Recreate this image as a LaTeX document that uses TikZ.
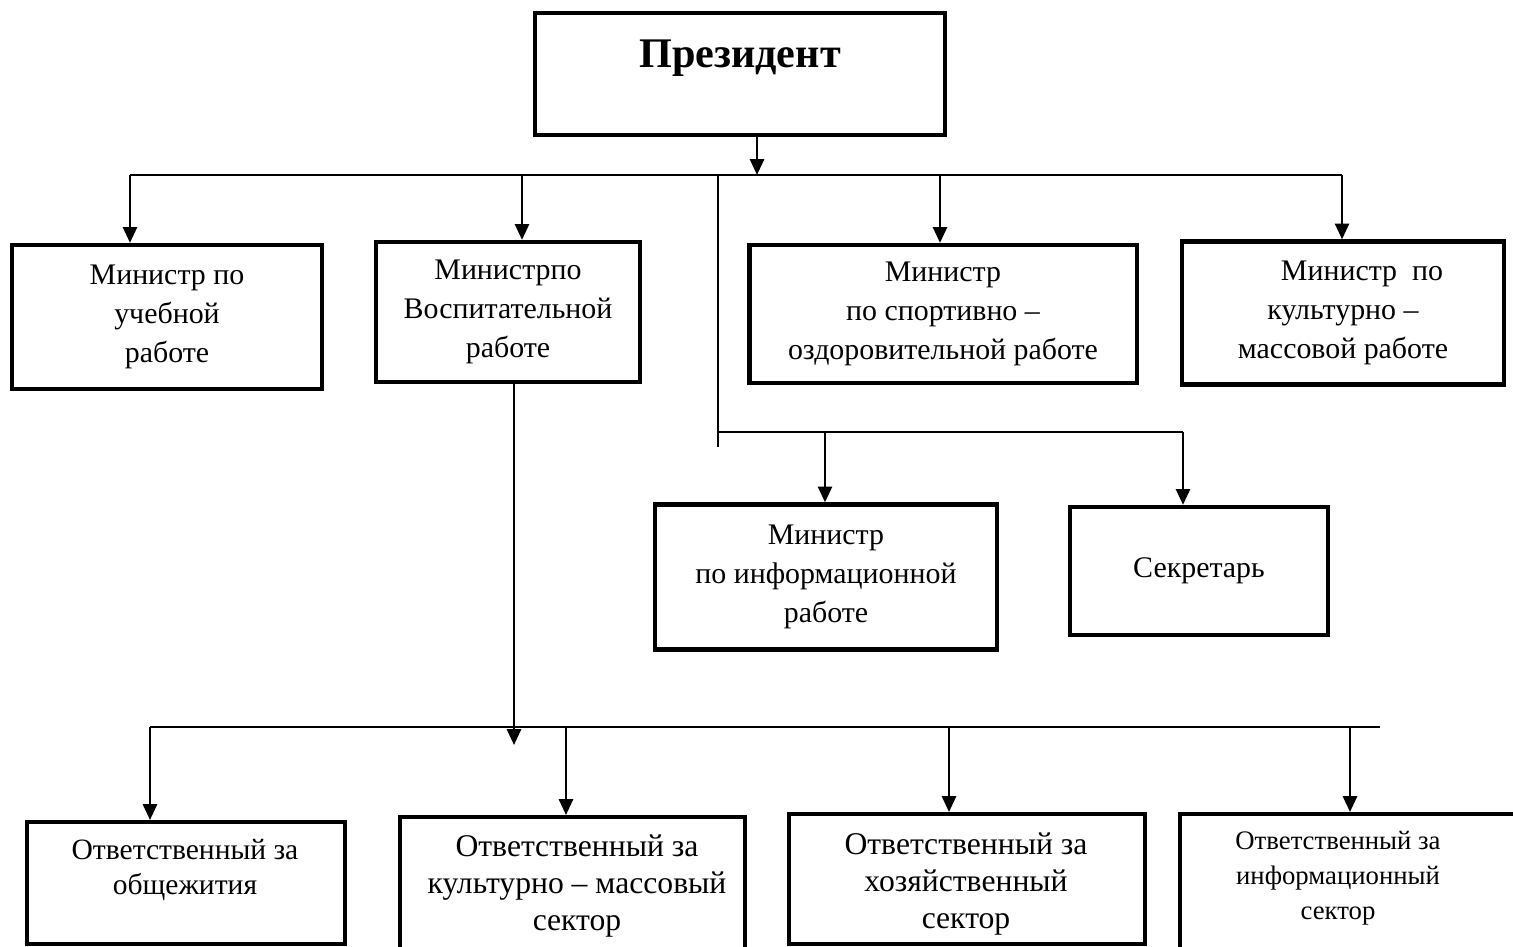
\documentclass[tikz,border=0pt]{standalone}
\usepackage{fontspec}
\setmainfont{Liberation Serif}
\usetikzlibrary{arrows.meta}

\begin{document}
\begin{tikzpicture}[x = .01cm, y = -.01cm, line width = .7pt,
	box/.style = {draw, line width = 1.2pt, inner sep = 0pt, align = center, font = \fontsize{8.5}{11}\selectfont},
	txt/.style = {inner sep = 0pt, align = center, font = \fontsize{9}{10.5}\selectfont},
	arr/.style = {-{Triangle[width = 4pt, length = 4.5pt]}}]
	\useasboundingbox (0,0) rectangle (1513,946);
	% top
	\node[draw, line width = 1.2pt, inner sep = 0pt, minimum width = 4.1cm, text height = 15.4pt, text depth = 19.3pt, font = \fontsize{12}{14}\selectfont\bfseries] (pres) at (740,74) {Президент};
	% ministers
	\node[box, minimum width = 3.1cm, minimum height = 1.44cm] (m1) at (167,317) {Министр по\\учебной\\работе};
	\node[box, minimum width = 2.64cm, minimum height = 1.4cm] (m2) at (508,312) {Министрпо\\Воспитательной\\работе};
	\node[box, minimum width = 3.87cm, minimum height = 1.38cm] (m3) at (943,314) {Министр\\по спортивно –\\оздоровительной работе};
	\node[box, minimum width = 3.22cm, minimum height = 1.43cm] (m4) at (1343,313) {\hspace*{.38cm}Министр~~по\\культурно –\hspace*{.5cm}\\массовой работе};
	\node[box, minimum width = 3.42cm, minimum height = 1.45cm] (m5) at (826,577) {Министр\\по информационной\\работе};
	\node[box, minimum width = 2.58cm, minimum height = 1.28cm] (m6) at (1199,571) {Секретарь};
	% sectors (partly cut at the bottom)
	\node[box, anchor = north west, minimum width = 3.18cm, minimum height = 1.22cm] (s1) at (25,820) {};
	\node[box, anchor = north west, minimum width = 3.45cm, minimum height = 1.6cm] (s2) at (398,815) {};
	\node[box, anchor = north west, minimum width = 3.56cm, minimum height = 1.3cm] (s3) at (787,812) {};
	\node[box, anchor = north west, minimum width = 4cm, minimum height = 1.6cm] (s4) at (1178,812) {};
	\node[txt, font = \fontsize{8.4}{10.2}\selectfont] (t1) at (185,870) {Ответственный за\\общежития};
	\node[txt] (t2) at (577,886) {Ответственный за\\культурно – массовый\\сектор};
	\node[txt] (t3) at (966,884) {Ответственный за\\хозяйственный\\сектор};
	\node[txt, font = \fontsize{7.6}{10}\selectfont] (t4) at (1338,878) {Ответственный за\\информационный\\сектор};
	% first bus
	\coordinate (hub) at (757,175);
	\coordinate (d1) at (130,175);
	\coordinate (d2) at (522,175);
	\coordinate (d3) at (940,175);
	\coordinate (d4) at (1342,175);
	\draw[arr] (pres.south -| hub) -- (hub);
	\draw (d1) -- (d4);
	\foreach \d/\m in {d1/m1, d2/m2, d3/m3, d4/m4}
		\draw[arr] (\d) -- (\d |- \m.north);
	% branch to info and secretary
	\coordinate (br) at (718,175);
	\coordinate (brEnd) at (718,447);
	\coordinate (e0) at (718,432);
	\coordinate (e1) at (825,432);
	\coordinate (e2) at (1183,432);
	\draw (br) -- (brEnd);
	\draw (e0) -- (e2);
	\draw[arr] (e1) -- (e1 |- m5.north);
	\draw[arr] (e2) -- (e2 |- m6.north);
	% second bus
	\coordinate (down) at (514,745);
	\coordinate (f1) at (150,727);
	\coordinate (f2) at (566,727);
	\coordinate (f3) at (949,727);
	\coordinate (f4) at (1350,727);
	\coordinate (fEnd) at (1380,727);
	\draw[arr] (m2.south -| down) -- (down);
	\draw (f1) -- (fEnd);
	\foreach \f/\s in {f1/s1, f2/s2, f3/s3, f4/s4}
		\draw[arr] (\f) -- (\f |- \s.north);
\end{tikzpicture}
\end{document}
